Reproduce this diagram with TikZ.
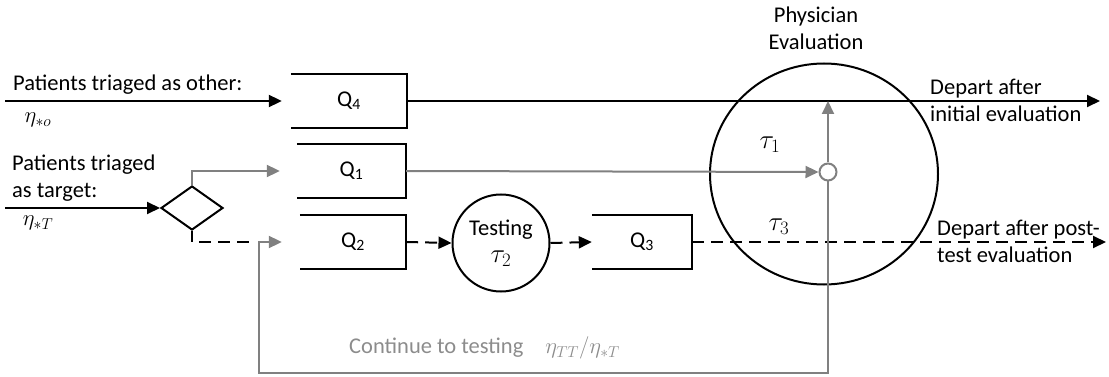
\RequirePackage{fix-cm}
\documentclass[tikz,border=0pt]{standalone}
\usepackage{fontspec}
\setmainfont{Carlito}
\usetikzlibrary{arrows.meta,shapes.geometric,calc}
\definecolor{flowgray}{RGB}{128,128,128}
\definecolor{labelgray}{RGB}{140,140,140}
\newcommand{\bigmath}[1]{{\fontsize{27}{27}\selectfont$#1$}}
\begin{document}
\begin{tikzpicture}[x=1pt,y=-1pt,
  every node/.style={font=\fontsize{22.5}{27}\selectfont, inner sep=0pt},
  flow/.style={line width=2pt, -{Triangle[length=13pt,width=12pt]}},
  blackflow/.style={flow, draw=black},
  grayflow/.style={flow, draw=flowgray},
  dashflow/.style={blackflow, dash pattern=on 12pt off 7pt},
  queue/.style={rectangle, minimum height=54pt},
  outline/.style={line width=2pt, draw=black},
]
\useasboundingbox (0,0) rectangle (1109,377);

% physician evaluation server
\node[ellipse, outline, minimum width=228pt, minimum height=221pt] (phys) at (824,174) {};
\node[align=center] (physlabel) at (816,28) {Physician\\Evaluation};
\node (tau1) at (770,145) {\bigmath{\tau_1}};
\node (tau3) at (779,227) {\bigmath{\tau_3}};

% queues (open on the left)
\node[queue, minimum width=116pt] (q4) at (349,101) {Q\textsubscript{4}};
\node[queue, minimum width=109pt] (q1) at (351.5,171) {Q\textsubscript{1}};
\node[queue, minimum width=106pt] (q2) at (353,242) {Q\textsubscript{2}};
\node[queue, minimum width=100pt] (q3) at (642,242) {Q\textsubscript{3}};
\foreach \q in {q4,q1,q2,q3}
  \draw[outline] (\q.north west) -- (\q.north east) -- (\q.south east) -- (\q.south west);

% triage split and testing server
\node[diamond, outline, minimum width=62pt, minimum height=44pt] (split) at (192,208) {};
\node[circle, outline, minimum size=97pt, align=center] (test) at (501,243) {Testing\\[0pt]\bigmath{\tau_2}};

% junction inside the physician evaluation
\node[circle, draw=flowgray, fill=white, line width=2pt, minimum size=17pt] (join) at (828,172) {};

% arrival labels
\node[anchor=west] (otherlabel) at (13,85) {Patients triaged as other:};
\node (etao) at (38,120) {$\eta_{*o}$};
\node[anchor=west, align=left] (targetlabel) at (12,178) {Patients triaged\\as target:};
\node (etaT) at (38,223) {$\eta_{*T}$};

% departure labels
\node[anchor=west, align=left] (departA) at (930,100) {Depart after\\initial evaluation};
\node[anchor=west, align=left] (departB) at (937,241) {Depart after post-\\test evaluation};

% loop label
\node[anchor=west, text=labelgray] (loopnote) at (349,348)
  {Continue to testing\hspace{22pt}$\eta_{TT}/\eta_{*T}$};

% free ends
\coordinate (srcO) at (5,101);
\coordinate (srcT) at (5,208);
\coordinate (exitA) at (1100,101);
\coordinate (exitB) at (1106,242);
\coordinate (loopL) at (259,373);

% "other" stream
\draw[blackflow] (srcO) -- ($(q4.west)+(-9,0)$);
\draw[blackflow] (q4.east) -- (exitA);

% "target" stream
\draw[blackflow] (srcT) -- (split.west);
\draw[grayflow] (split.north) |- ($(q1.west)+(-17,0)$);
\draw[grayflow] (q1.east) -- (join.west);
\draw[grayflow] (join.north) -- (join.north |- q4.east);

% testing branch
\draw[line width=2pt] (split.south) -- (split.south |- q2.west) coordinate (fork);
\draw[line width=2pt, dash pattern=on 12pt off 7pt, dash phase=12pt] (fork) -- ($(loopL |- fork)+(-6,0)$);
\draw[dashflow] (q2.east) -- (test.west);
\draw[dashflow] (test.east) -- (q3.west);
\draw[dashflow] (q3.east) -- (exitB);

% return loop to testing
\draw[grayflow] (join.south) |- (loopL) |- ($(q2.west)+(-18,0)$);
\end{tikzpicture}
\end{document}
